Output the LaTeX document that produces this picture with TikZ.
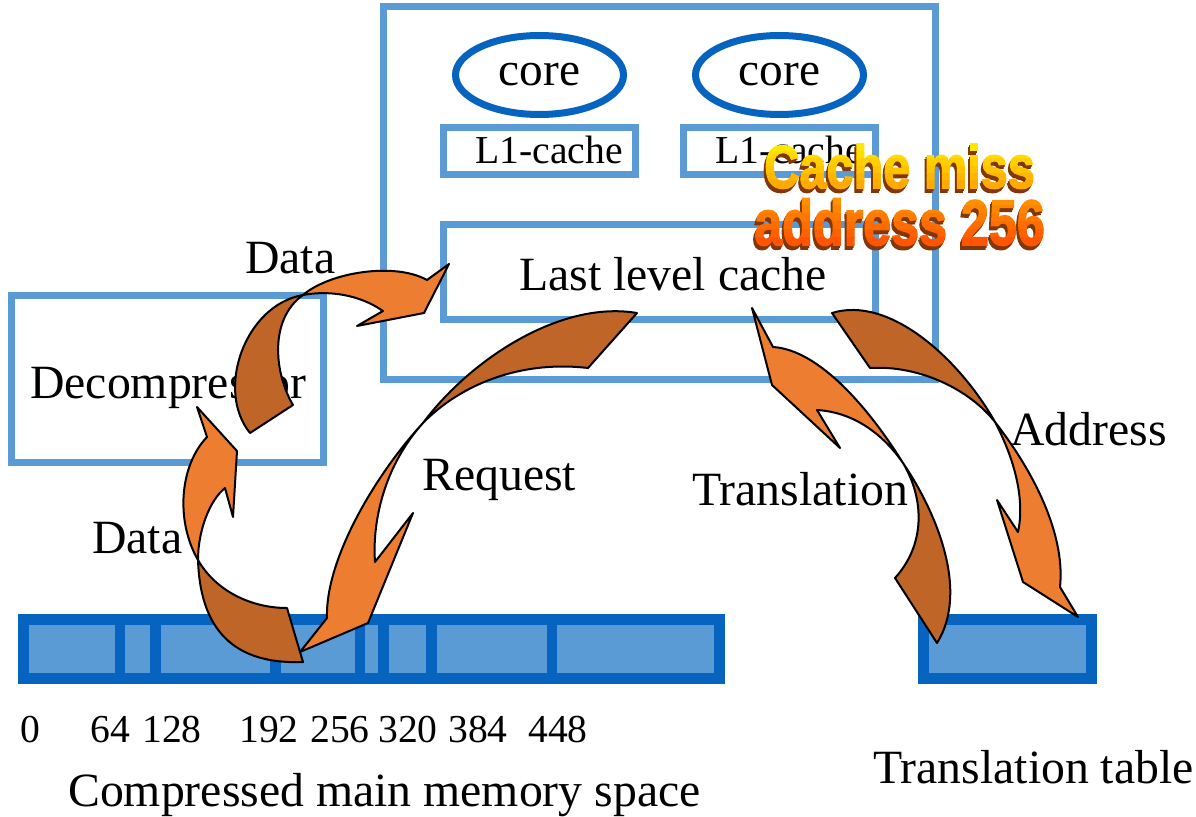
\documentclass[tikz,border=0pt]{standalone}
\usepackage{fontspec}
\setmainfont{Liberation Serif}
\newfontfamily\wafont{Liberation Sans Bold}[FakeBold=2.5]
\usetikzlibrary{shapes.geometric,fit}
\definecolor{lblue}{RGB}{91,155,213}
\definecolor{dblue}{RGB}{6,99,192}
\definecolor{arrL}{RGB}{237,125,49}
\definecolor{arrD}{RGB}{191,101,40}
\definecolor{waY}{RGB}{255,232,0}
\definecolor{waO}{RGB}{255,170,0}
\definecolor{waOt}{RGB}{255,145,0}
\definecolor{waR}{RGB}{255,85,0}
\definecolor{waS}{RGB}{130,55,10}
% #1 x, #2 baseline (px), #3 width pt, #4 height pt, #5 height px, #6 text, #7 top colour, #8 bottom colour
\newcommand\wapart[8]{%
  \foreach \k in {2,4}{%
    \node[anchor=base west,inner sep=0pt,text=waS] at ({#1-0.5*\k},{#2+1.0*\k}) {\resizebox{#3}{#4}{\wafont #6}};
  }%
  \foreach \i in {0,...,5}{%
    \pgfmathsetmacro\pp{100*\i/5}%
    \pgfmathsetmacro\ya{#2-#5+\i*#5/6-(\i==0)*6}%
    \pgfmathsetmacro\yb{#2-#5+(\i+1)*#5/6+(\i==5)*6}%
    \begin{scope}
      \clip (#1-10,\ya) rectangle (#1+320,\yb);
      \node[anchor=base west,inner sep=0pt,text=#8!\pp!#7] at (#1,#2) {\resizebox{#3}{#4}{\wafont #6}};
    \end{scope}
  }%
}
\begin{document}
\begin{tikzpicture}[x=0.75pt,y=-0.75pt,
  lbox/.style={draw=lblue,line width=5.25pt,inner sep=0pt},
  mbox/.style={draw=dblue,line width=8pt,fill=lblue,inner sep=0pt},
  divider/.style={draw=dblue,line width=8pt},
  coreshape/.style={draw=dblue,line width=5.25pt,ellipse,inner sep=0pt,
    minimum width=126pt,minimum height=59.25pt,font=\fontsize{35.5}{40}\selectfont},
  big/.style={font=\fontsize{35.8}{40}\selectfont,inner sep=0pt,anchor=base west},
  small/.style={font=\fontsize{29.7}{34}\selectfont,inner sep=0pt,anchor=base west},
  arrowline/.style={draw=black,line width=1.5pt,line join=round},
]
\useasboundingbox (0,0) rectangle (1196,817);

% boxes
\node[lbox,fit={(383,7)(935.5,379)}] (cpu) {};
\node[coreshape] (core1) at (539.5,75) {core};
\node[coreshape] (core2) at (779.5,75) {core};
\node[lbox,fit={(443,127)(635,174)}] (l1a) {};
\node[lbox,fit={(683,127)(875,174)}] (l1b) {};
\node[lbox,fit={(443.5,224)(875,319)}] (llc) {};
\node[lbox,fit={(11,295)(323.5,462)}] (dec) {};
\node[mbox,fit={(23.3,619.3)(719.7,678.7)}] (mem) {};
\node[mbox,fit={(923.3,619.3)(1091.7,678.7)}] (tt) {};
\foreach \d in {120,155.5,275.5,360,383.5,431.5,552}{
  \draw[divider] (\d,614) -- (\d,684);
}

% texts inside boxes
\node[small] (l1atext) at (475,163) {L1-cache};
\node[small] (l1btext) at (715,163) {L1-cache};
\node[big] (llctext) at (519,290) {Last level cache};
\node[big] (dectext) at (30,398) {Decompressor};

% address labels
\node[small] (a0) at (20,742) {0};
\node[small] (a64) at (90,742) {64};
\node[small] (a128) at (142,742) {128};
\node[small] (a192) at (239,742) {192};
\node[small] (a256) at (310,742) {256};
\node[small] (a320) at (378,742) {320};
\node[small] (a384) at (448,742) {384};
\node[small] (a448) at (528,742) {448};
\node[big] (memtext) at (68,806) {Compressed main memory space};
\node[big] (tttext) at (873,783) {Translation table};

% arrow: Request (LLC -> memory)
\draw[arrowline,fill=arrD] (423,423) .. controls (470,360) and (560,300) .. (637,313)
  -- (588,368) .. controls (520,360) and (460,385) .. (423,423) -- cycle;
\draw[arrowline,fill=arrL] (423,423) .. controls (375,475) and (325,560) .. (327,618)
  -- (300,652) -- (368,623) -- (413,513) -- (375,562)
  .. controls (372,520) and (385,465) .. (423,423) -- cycle;

% arrow: Data (memory -> decompressor)
\draw[arrowline,fill=arrD] (198,560) .. controls (200,620) and (225,665) .. (303,662)
  -- (287,608) .. controls (250,608) and (215,590) .. (198,560) -- cycle;
\draw[arrowline,fill=arrL] (198,560) .. controls (175,520) and (180,465) .. (207,437)
  -- (197,407) -- (237,451) -- (233,517) -- (225,488)
  .. controls (210,500) and (198,530) .. (198,560) -- cycle;

% arrow: Data (decompressor -> LLC)
\draw[arrowline,fill=arrD] (250,433) -- (293,405) .. controls (275,375) and (268,320) .. (303,295)
  .. controls (245,305) and (215,390) .. (250,433) -- cycle;
\draw[arrowline,fill=arrL] (303,295) .. controls (330,272) and (395,262) .. (427,280)
  -- (449,264) -- (424,313) -- (357,326) -- (383,311)
  .. controls (360,295) and (330,290) .. (303,295) -- cycle;

% arrow: Translation (table -> LLC)
\draw[arrowline,fill=arrD] (903,463) .. controls (935,510) and (970,590) .. (937,643)
  -- (895,578) .. controls (925,545) and (925,500) .. (903,463) -- cycle;
\draw[arrowline,fill=arrL] (903,463) .. controls (870,410) and (820,350) .. (773,347)
  -- (752,308) -- (772,385) -- (840,448) -- (817,410)
  .. controls (850,412) and (880,430) .. (903,463) -- cycle;

% arrow: Address (LLC -> table)
\draw[arrowline,fill=arrD] (995,422) .. controls (960,360) and (890,295) .. (832,313)
  -- (870,368) .. controls (920,365) and (970,390) .. (995,422) -- cycle;
\draw[arrowline,fill=arrL] (995,422) .. controls (1040,480) and (1065,540) .. (1060,587)
  -- (1078,617) -- (1023,582) -- (997,500) -- (1018,532)
  .. controls (1025,500) and (1015,460) .. (995,422) -- cycle;

% arrow labels
\node[big] (ldata1) at (245,273) {Data};
\node[big] (ldata2) at (92,553) {Data};
\node[big] (lreq) at (422,490) {Request};
\node[big] (ltrans) at (692,505) {Translation};
\node[big] (laddr) at (1010,445) {Address};

% word art
\wapart{764}{188}{203pt}{33pt}{44}{Cache miss}{waY}{waO}
\wapart{754}{245}{218pt}{35pt}{47}{address 256}{waOt}{waR}
\end{tikzpicture}
\end{document}
